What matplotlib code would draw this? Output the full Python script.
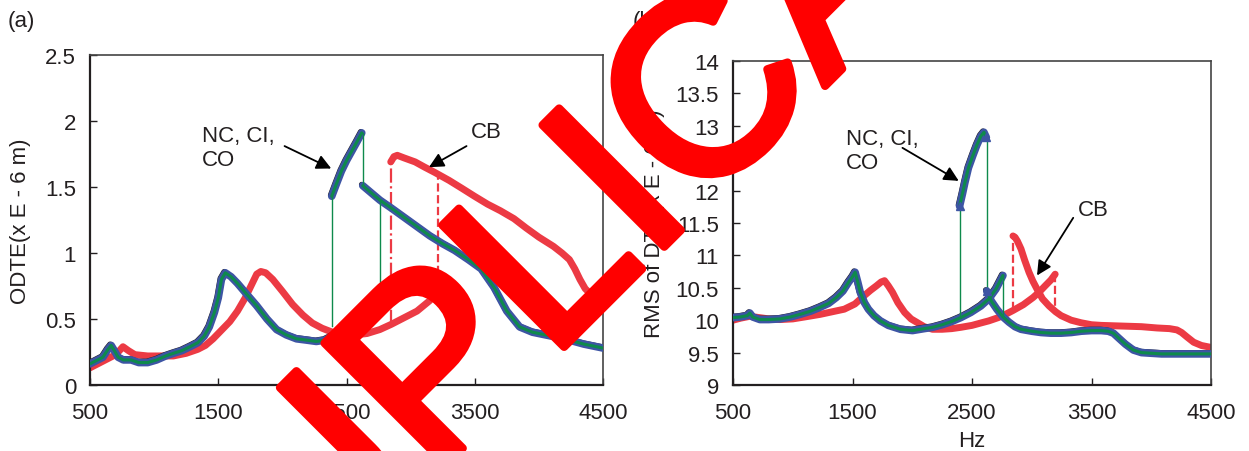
import numpy as np
import matplotlib
matplotlib.use("Agg")
import matplotlib.pyplot as plt
import matplotlib.transforms as mtransforms
import matplotlib.patheffects as pe

plt.rcParams['font.family'] = ['Liberation Sans', 'DejaVu Sans']

# ---------------- (a) ODTE ----------------
# NC, CI, CO (all three nearly coincide)
a_lo_x = [500, 560, 600, 640, 665, 690, 720, 760, 820, 880, 950, 1020, 1090, 1150, 1215,
          1280, 1340, 1390, 1430, 1470, 1500, 1525, 1555, 1600, 1650, 1720, 1800, 1880,
          1955, 2030, 2110, 2190, 2265, 2330, 2390, 2450, 2510, 2570, 2640, 2700, 2760]
a_lo_y = [0.16, 0.19, 0.21, 0.27, 0.30, 0.26, 0.21, 0.19, 0.19, 0.17, 0.17, 0.19, 0.22, 0.24, 0.26,
          0.29, 0.32, 0.37, 0.44, 0.55, 0.66, 0.80, 0.85, 0.82, 0.77, 0.69, 0.60, 0.50,
          0.42, 0.38, 0.35, 0.34, 0.33, 0.34, 0.37, 0.40, 0.43, 0.47, 0.52, 0.56, 0.61]
a_up_x = [2385, 2420, 2460, 2500, 2540, 2580, 2619]
a_up_y = [1.43, 1.52, 1.62, 1.70, 1.77, 1.84, 1.91]
a_dn_x = [2627, 2700, 2761, 2850, 2950, 3050, 3150, 3250, 3343, 3450, 3550, 3650, 3750,
          3850, 3950, 4050, 4200, 4350, 4500]
a_dn_y = [1.51, 1.45, 1.40, 1.34, 1.27, 1.20, 1.13, 1.07, 1.02, 0.95, 0.88, 0.74, 0.56,
          0.44, 0.40, 0.38, 0.35, 0.31, 0.28]
# CB
a_cb_lo_x = [500, 560, 620, 680, 720, 757, 800, 850, 950, 1050, 1150, 1250, 1340, 1400, 1460,
             1520, 1590, 1650, 1710, 1760, 1800, 1832, 1870, 1925, 2000, 2080, 2160, 2233,
             2310, 2390, 2480, 2570, 2660, 2760, 2850, 2950, 3050, 3100, 3150, 3185, 3210]
a_cb_lo_y = [0.13, 0.16, 0.19, 0.22, 0.25, 0.29, 0.26, 0.23, 0.22, 0.22, 0.22, 0.24, 0.27, 0.30, 0.35,
             0.41, 0.48, 0.56, 0.66, 0.76, 0.84, 0.86, 0.85, 0.80, 0.71, 0.61, 0.53, 0.47,
             0.43, 0.40, 0.38, 0.38, 0.39, 0.42, 0.46, 0.51, 0.56, 0.60, 0.64, 0.72, 0.84]
a_cb_up_x = [2845, 2870, 2896, 2950, 3035, 3110, 3189, 3300, 3400, 3498, 3600, 3700, 3806,
             3900, 4000, 4114, 4180, 4238, 4280, 4320, 4361, 4423, 4500]
a_cb_up_y = [1.69, 1.73, 1.74, 1.72, 1.69, 1.65, 1.61, 1.55, 1.49, 1.43, 1.37, 1.32, 1.26,
             1.19, 1.12, 1.05, 1.00, 0.95, 0.88, 0.80, 0.73, 0.67, 0.61]
# jumps: (x, y_from, y_to)
a_jumps_nc = [(2385, 0.45, 1.43), (2627, 1.91, 1.51), (2760, 1.39, 0.61)]
a_jumps_cb = [(2845, 0.46, 1.69, '-.'), (3210, 0.84, 1.60, '--')]

# ---------------- (b) RMS of DTE ----------------
b_lo_x = [500, 560, 620, 641, 665, 725, 800, 893, 980, 1061, 1150, 1229, 1300, 1364, 1420,
          1465, 1500, 1522, 1545, 1565, 1600, 1633, 1680, 1733, 1800, 1902, 2002, 2100,
          2170, 2250, 2330, 2406, 2490, 2574, 2641, 2700, 2759]
b_lo_y = [10.04, 10.05, 10.07, 10.11, 10.05, 10.01, 10.01, 10.02, 10.05, 10.09, 10.14, 10.20,
          10.26, 10.35, 10.45, 10.58, 10.67, 10.74, 10.58, 10.43, 10.27, 10.17, 10.07, 9.99,
          9.92, 9.86, 9.84, 9.87, 9.89, 9.93, 9.98, 10.04, 10.12, 10.22, 10.33, 10.48, 10.69]
b_up_x = [2396, 2420, 2440, 2470, 2507, 2540, 2574, 2600, 2620]
b_up_y = [11.76, 11.95, 12.12, 12.35, 12.54, 12.70, 12.84, 12.90, 12.82]
b_dn_x = [2624, 2660, 2708, 2760, 2809, 2860, 2910, 3000, 3078, 3160, 3246, 3330, 3414, 3500,
          3582, 3640, 3683, 3730, 3784, 3850, 3918, 4000, 4086, 4200, 4350, 4500]
b_dn_y = [10.45, 10.30, 10.17, 10.05, 9.97, 9.90, 9.86, 9.83, 9.81, 9.80, 9.80, 9.81, 9.83,
          9.84, 9.84, 9.83, 9.80, 9.72, 9.63, 9.54, 9.50, 9.49, 9.48, 9.48, 9.48, 9.48]
b_cb_lo_x = [500, 560, 640, 720, 800, 893, 1000, 1100, 1229, 1330, 1431, 1520, 1599, 1650,
             1700, 1740, 1768, 1800, 1835, 1880, 1936, 1990, 2036, 2100, 2170, 2250, 2330,
             2406, 2500, 2580, 2641, 2720, 2780, 2843, 2930, 3011, 3060, 3112, 3160, 3196]
b_cb_lo_y = [10.00, 10.03, 10.06, 10.04, 10.02, 10.01, 10.02, 10.05, 10.09, 10.13, 10.17,
             10.25, 10.38, 10.46, 10.53, 10.59, 10.61, 10.53, 10.43, 10.27, 10.12, 10.02,
             9.97, 9.90, 9.86, 9.86, 9.87, 9.89, 9.92, 9.96, 9.99, 10.04, 10.09, 10.15,
             10.24, 10.35, 10.43, 10.53, 10.62, 10.71]
b_cb_up_x = [2843, 2860, 2880, 2910, 2940, 2977, 3010, 3044, 3090, 3145, 3200, 3246, 3330,
             3414, 3500, 3582, 3750, 3918, 4050, 4153, 4215, 4254, 4300, 4355, 4420, 4500]
b_cb_up_y = [11.30, 11.28, 11.22, 11.10, 10.93, 10.74, 10.60, 10.48, 10.33, 10.22, 10.13,
             10.07, 10.00, 9.96, 9.93, 9.92, 9.91, 9.90, 9.88, 9.87, 9.85, 9.81, 9.74,
             9.66, 9.61, 9.58]
b_jumps_nc = [(2396, 10.05, 11.76), (2624, 12.82, 10.45), (2759, 10.69, 10.06)]
b_jumps_cb = [(2843, 10.15, 11.30, '--'), (3196, 10.71, 10.13, '--')]

xticks = [500, 1500, 2500, 3500, 4500]

RED = '#EC3A44'
BLUE = '#3D55A4'
GREEN = '#0E8A4C'
BLACK = '#231F20'
TXT = '#231F20'
FS = 16

fig = plt.figure(figsize=(12.49, 4.52), dpi=100)
axA = fig.add_axes([90/1249, 1-386/452, 513/1249, 330/452])
axB = fig.add_axes([733/1249, 1-386/452, 478/1249, 324/452])


def draw_panel(ax, nc_parts, cb_parts, nc_jumps, cb_jumps, markers):
    # CB underneath
    for xs, ys in cb_parts:
        ax.plot(xs, ys, color=RED, lw=5, solid_capstyle='round', zorder=2)
    for x, y0, y1, ls in cb_jumps:
        ax.plot([x, x], [y0, y1], color=RED, lw=1.6, ls=ls, zorder=2)
    # black outline slightly shifted up-left
    shift = mtransforms.offset_copy(ax.transData, fig=fig, x=-0.8, y=0.8, units='points')
    for xs, ys in nc_parts:
        ax.plot(xs, ys, color=BLACK, lw=4, transform=shift, solid_capstyle='round', zorder=3)
    for xs, ys in nc_parts:
        ax.plot(xs, ys, color=BLUE, lw=5.5, solid_capstyle='round', zorder=4)
    for xs, ys in nc_parts:
        ax.plot(xs, ys, color=GREEN, lw=2.2, solid_capstyle='round', zorder=5)
    for x, y0, y1 in nc_jumps:
        ax.plot([x, x], [y0, y1], color=GREEN, lw=1.0, zorder=5)
    if markers:
        mx = [p[0] for p in markers]
        my = [p[1] for p in markers]
        ax.plot(mx, my, ls='none', marker='^', ms=6, color=BLUE, zorder=6)

    ax.set_xlim(500, 4500)
    ax.set_xticks(xticks)
    ax.set_xlabel('Hz', fontsize=FS, color=TXT, labelpad=5)
    ax.tick_params(direction='in', length=5, width=1, labelsize=FS, colors=TXT,
                   top=False, right=False)
    ax.tick_params(axis='x', pad=12)
    ax.tick_params(axis='y', pad=10)
    for s in ['left', 'bottom']:
        ax.spines[s].set_linewidth(1.6)
        ax.spines[s].set_color(BLACK)
    for s in ['top', 'right']:
        ax.spines[s].set_linewidth(1.2)
        ax.spines[s].set_color('#444444')


draw_panel(axA,
           [(a_lo_x, a_lo_y), (a_up_x, a_up_y), (a_dn_x, a_dn_y)],
           [(a_cb_lo_x, a_cb_lo_y), (a_cb_up_x, a_cb_up_y)],
           a_jumps_nc, a_jumps_cb, [])
axA.set_ylim(0, 2.5)
axA.set_yticks([0, 0.5, 1, 1.5, 2, 2.5])
axA.set_yticklabels(['0', '0.5', '1', '1.5', '2', '2.5'])
axA.set_ylabel('ODTE(x E - 6 m)', fontsize=FS, color=TXT, labelpad=10)

draw_panel(axB,
           [(b_lo_x, b_lo_y), (b_up_x, b_up_y), (b_dn_x, b_dn_y)],
           [(b_cb_lo_x, b_cb_lo_y), (b_cb_up_x, b_cb_up_y)],
           b_jumps_nc, b_jumps_cb,
           [(b_up_x[0], b_up_y[0]), (b_up_x[-1], b_up_y[-1]), (b_dn_x[0], b_dn_y[0])])
axB.set_ylim(9, 14)
axB.set_yticks(np.arange(9, 14.01, 0.5))
axB.set_yticklabels(['9', '9.5', '10', '10.5', '11', '11.5', '12', '12.5', '13', '13.5', '14'])
axB.set_ylabel('RMS of DTE(x E - 6 m)', fontsize=FS, color=TXT, labelpad=8)

arrow = dict(arrowstyle='-|>', color='black', lw=1.3, mutation_scale=22, shrinkA=0, shrinkB=0)
axA.text(1370, 1.80, 'NC, CI,\nCO', fontsize=FS, color=TXT,
         ha='left', va='center', linespacing=1.15)
axA.annotate('', xy=(2381, 1.64), xytext=(2017, 1.81), arrowprops=arrow)
axA.text(3590, 1.92, 'CB', fontsize=FS, color=TXT, ha='center', va='center')
axA.annotate('', xy=(3143, 1.65), xytext=(3436, 1.81), arrowprops=arrow)

axB.text(1448, 12.62, 'NC, CI,\nCO', fontsize=FS, color=TXT,
         ha='left', va='center', linespacing=1.15)
axB.annotate('', xy=(2389, 12.15), xytext=(1918, 12.66), arrowprops=arrow)
axB.text(3515, 11.71, 'CB', fontsize=FS, color=TXT, ha='center', va='center')
axB.annotate('', xy=(3044, 10.69), xytext=(3347, 11.58), arrowprops=arrow)

fig.text(8/1249, 1-22/452, '(a)', fontsize=16, color=TXT, ha='left', va='center')
fig.text(633/1249, 1-22/452, '(b)', fontsize=16, color=TXT, ha='left', va='center')

# red stamp across the figure
fig.text(620/1249, 1-200/452, 'DUPLICATE', fontsize=180, color='#FF0000',
         rotation=45, rotation_mode='anchor', ha='center', va='center', zorder=20,
         path_effects=[pe.withStroke(linewidth=6, foreground='#FF0000')])

fig.savefig('out.png', dpi=100)
